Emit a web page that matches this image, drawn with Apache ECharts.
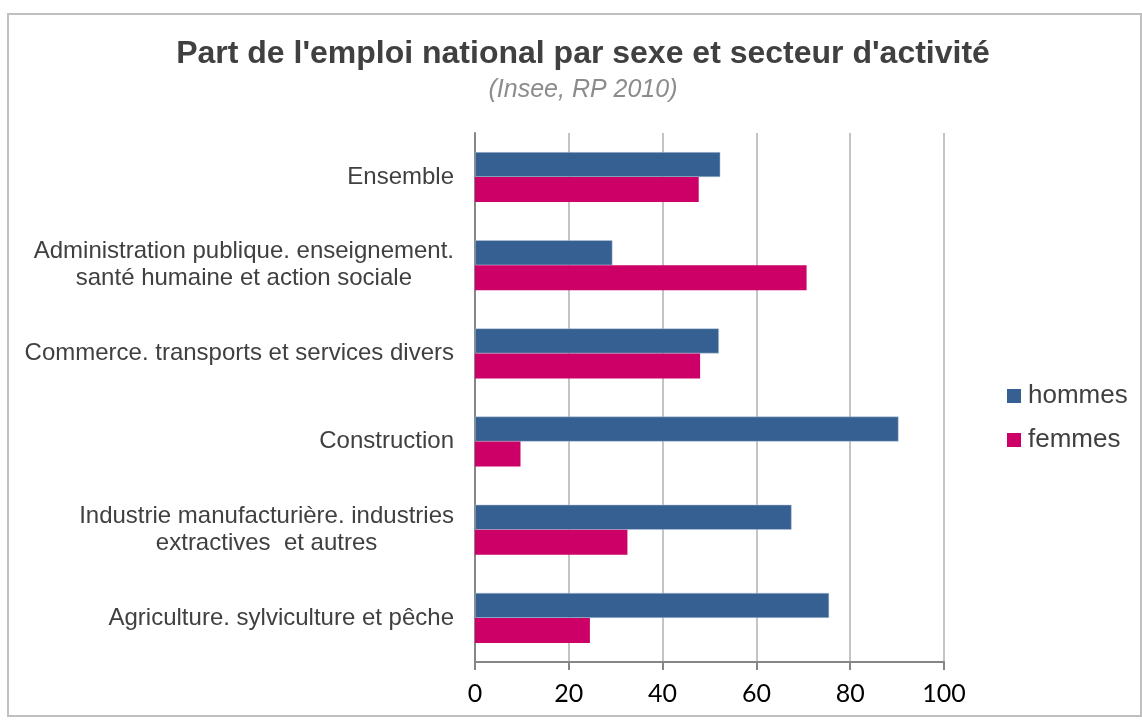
<!DOCTYPE html>
<html>
<head>
<meta charset="utf-8">
<script src="https://cdn.jsdelivr.net/npm/echarts@6/dist/echarts.min.js"></script>
<style>
html,body{margin:0;padding:0;background:#fff;}
#chart{width:1142px;height:722px;}
</style>
</head>
<body>
<div id="chart"></div>
<script>
const categories = [
  "Ensemble",
  "Administration publique. enseignement.\nsanté humaine et action sociale",
  "Commerce. transports et services divers",
  "Construction",
  "Industrie manufacturière. industries\nextractives  et autres",
  "Agriculture. sylviculture et pêche"
];
const hommes = [52.3, 29.3, 52.0, 90.3, 67.5, 75.5];
const femmes = [47.7, 70.7, 48.0, 9.7, 32.5, 24.5];
const xTicks = { min: 0, max: 100, interval: 20 };

const chart = echarts.init(document.getElementById('chart'));
chart.setOption({
  backgroundColor: '#ffffff',
  animation: false,
  title: {
    text: "Part de l'emploi national par sexe et secteur d'activité",
    subtext: '(Insee, RP 2010)',
    left: 578,
    textAlign: 'center',
    top: 33,
    itemGap: 8,
    textStyle: { fontFamily: 'Liberation Sans', fontSize: 32, fontWeight: 'bold', color: '#404040' },
    subtextStyle: { fontFamily: 'Liberation Sans', fontSize: 25, fontStyle: 'italic', color: '#8c8c8c' }
  },
  legend: {
    orient: 'vertical',
    left: 1002,
    top: 378,
    itemWidth: 14,
    itemHeight: 14,
    itemGap: 18,
    icon: 'rect',
    itemStyle: { borderWidth: 0 },
    textStyle: { fontFamily: 'Liberation Sans', fontSize: 26, color: '#404040', padding: [0, 0, 0, 2] },
    data: ['hommes', 'femmes']
  },
  grid: { left: 475, right: 198, top: 133, bottom: 60, containLabel: false },
  xAxis: {
    type: 'value',
    min: xTicks.min, max: xTicks.max, interval: xTicks.interval,
    axisLine: { show: true, lineStyle: { color: '#868686', width: 2 } },
    axisTick: { show: true, length: 8, lineStyle: { color: '#868686', width: 2 } },
    axisLabel: { fontFamily: 'Lato', fontSize: 25, color: '#000000', margin: 19 },
    splitLine: { show: true, lineStyle: { color: '#c4c4c4', width: 2 } }
  },
  yAxis: {
    type: 'category',
    inverse: true,
    data: categories,
    axisLine: { show: true, lineStyle: { color: '#868686', width: 2 } },
    axisTick: { show: false },
    axisLabel: {
      margin: 21,
      fontFamily: 'Liberation Sans', fontSize: 24, color: '#404040', lineHeight: 27,
      formatter: function (v) { return v.split('\n').map(function (s) { return '{c|' + s + '}'; }).join('\n'); },
      rich: { c: { align: 'center', fontFamily: 'Liberation Sans', fontSize: 24, color: '#404040', lineHeight: 27 } }
    }
  },
  series: [
    { name: 'hommes', type: 'bar', data: hommes, barWidth: 25, barGap: '0%',
      itemStyle: { color: '#376092', borderColor: '#b9c9dc', borderWidth: 0.5 } },
    { name: 'femmes', type: 'bar', data: femmes, barWidth: 25, barGap: '0%',
      itemStyle: { color: '#cc0066' } }
  ],
  graphic: [
    { type: 'rect', shape: { x: 8, y: 14, width: 1133, height: 702 }, silent: true,
      style: { fill: 'none', stroke: '#c0c0c0', lineWidth: 2 } }
  ]
});
</script>
</body>
</html>
